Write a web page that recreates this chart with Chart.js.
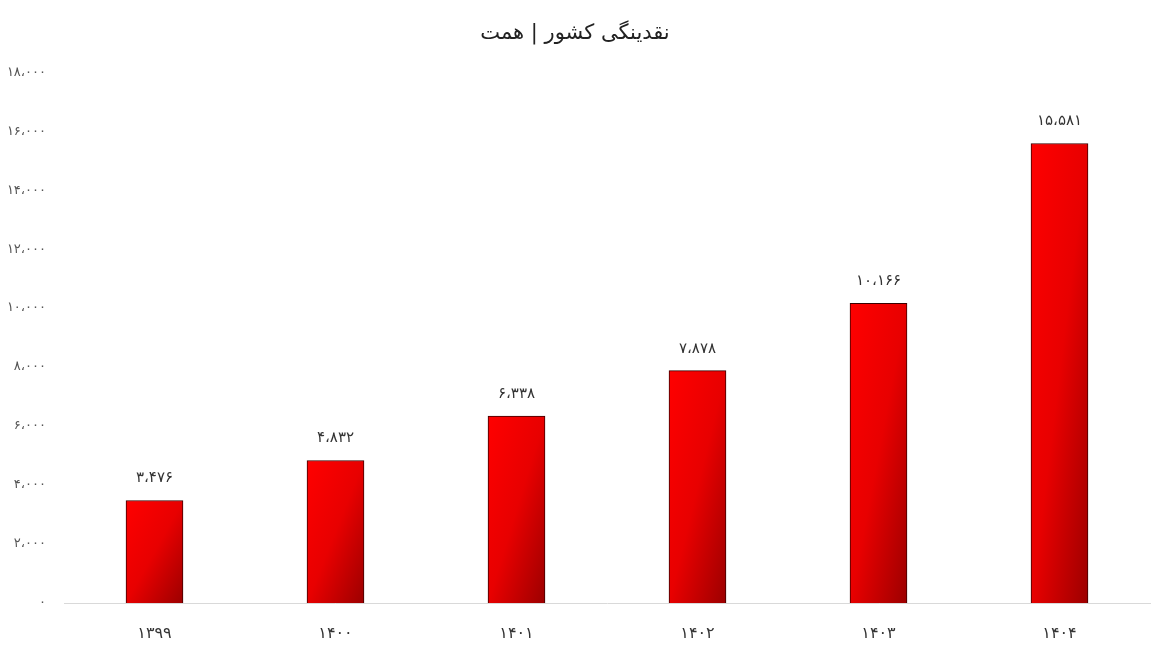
<!DOCTYPE html>
<html><head><meta charset="utf-8">
<script src="https://cdn.jsdelivr.net/npm/chart.js@4/dist/chart.umd.min.js"></script>
<style>html,body{margin:0;padding:0;background:#fff}#w{width:1157px;height:652px;position:relative}</style>
</head><body><div id="w"><canvas id="c"></canvas></div>
<script>
const categories = ['1399','1400','1401','1402','1403','1404'];
const values = [3476, 4832, 6338, 7878, 10166, 15581];
const yTicks = [0, 2000, 4000, 6000, 8000, 10000, 12000, 14000, 16000, 18000];
const titleText = 'نقدینگی کشور | همت';

const fa = s => String(s).replace(/\d/g, d => '۰۱۲۳۴۵۶۷۸۹'[d]);
const fmt = v => fa(v.toString().replace(/\B(?=(\d{3})+(?!\d))/g, '،'));

const FONT = "'DejaVu Sans', 'Noto Sans', sans-serif";
const BAR_W = 57;

const labelPlugin = {
  id: 'vlabels',
  afterDatasetsDraw(chart) {
    const ctx = chart.ctx;
    const meta = chart.getDatasetMeta(0);
    ctx.save();
    ctx.font = '15px ' + FONT;
    ctx.fillStyle = '#333';
    ctx.textAlign = 'center';
    ctx.textBaseline = 'middle';
    meta.data.forEach((bar, i) => {
      ctx.fillText(fmt(values[i]), bar.x, bar.y - 22);
    });
    ctx.restore();
  }
};

new Chart(document.getElementById('c'), {
  type: 'bar',
  data: {
    labels: categories.map(fa),
    datasets: [{
      data: values,
      backgroundColor(context) {
        const chart = context.chart;
        const sx = chart.scales && chart.scales.x, sy = chart.scales && chart.scales.y;
        if (!chart.chartArea || !sx || !sy || context.dataIndex === undefined) return '#e00000';
        const i = context.dataIndex;
        const x = sx.getPixelForValue(i);
        const top = sy.getPixelForValue(values[i]);
        const base = sy.getPixelForValue(0);
        const w = BAR_W;
        const h = base - top;
        if (![x, top, base, h].every(Number.isFinite) || h <= 0) return '#e00000';
        const vx = 1 / (2 * w), vy = 1 / (2 * h);
        const n2 = vx * vx + vy * vy;
        const dx = vx / n2, dy = vy / n2;
        const x0 = x - w / 2, y0 = top;
        const g = chart.ctx.createLinearGradient(x0, y0, x0 + dx, y0 + dy);
        g.addColorStop(0, '#ff0000');
        g.addColorStop(0.5, '#e80000');
        g.addColorStop(1, '#9c0000');
        return g;
      },
      borderColor: '#3a0000',
      borderWidth: 1,
      borderSkipped: 'bottom',
      barThickness: BAR_W
    }]
  },
  options: {
    responsive: true,
    maintainAspectRatio: false,
    animation: false,
    layout: { padding: { left: 0, right: 7, top: 6, bottom: 0 } },
    plugins: {
      legend: { display: false },
      tooltip: { enabled: false },
      title: {
        display: true,
        text: titleText,
        color: '#222',
        font: { family: FONT, size: 21, weight: 'normal' },
        padding: { top: 15, bottom: 26 }
      }
    },
    scales: {
      x: {
        grid: { display: false, drawTicks: false },
        border: { display: true, color: '#d9d9d9', width: 1 },
        ticks: { color: '#333', font: { family: FONT, size: 16 }, padding: 21 },
        afterFit(axis) { axis.height = 49; }
      },
      y: {
        min: 0, max: 18000,
        afterBuildTicks(axis) { axis.ticks = yTicks.map(v => ({ value: v })); },
        grid: { display: false, drawTicks: false },
        border: { display: false },
        ticks: {
          color: '#555', font: { family: FONT, size: 13 }, padding: 18,
          callback: v => fmt(v)
        },
        afterFit(axis) { axis.width = 64; }
      }
    }
  },
  plugins: [labelPlugin]
});
</script></body></html>
